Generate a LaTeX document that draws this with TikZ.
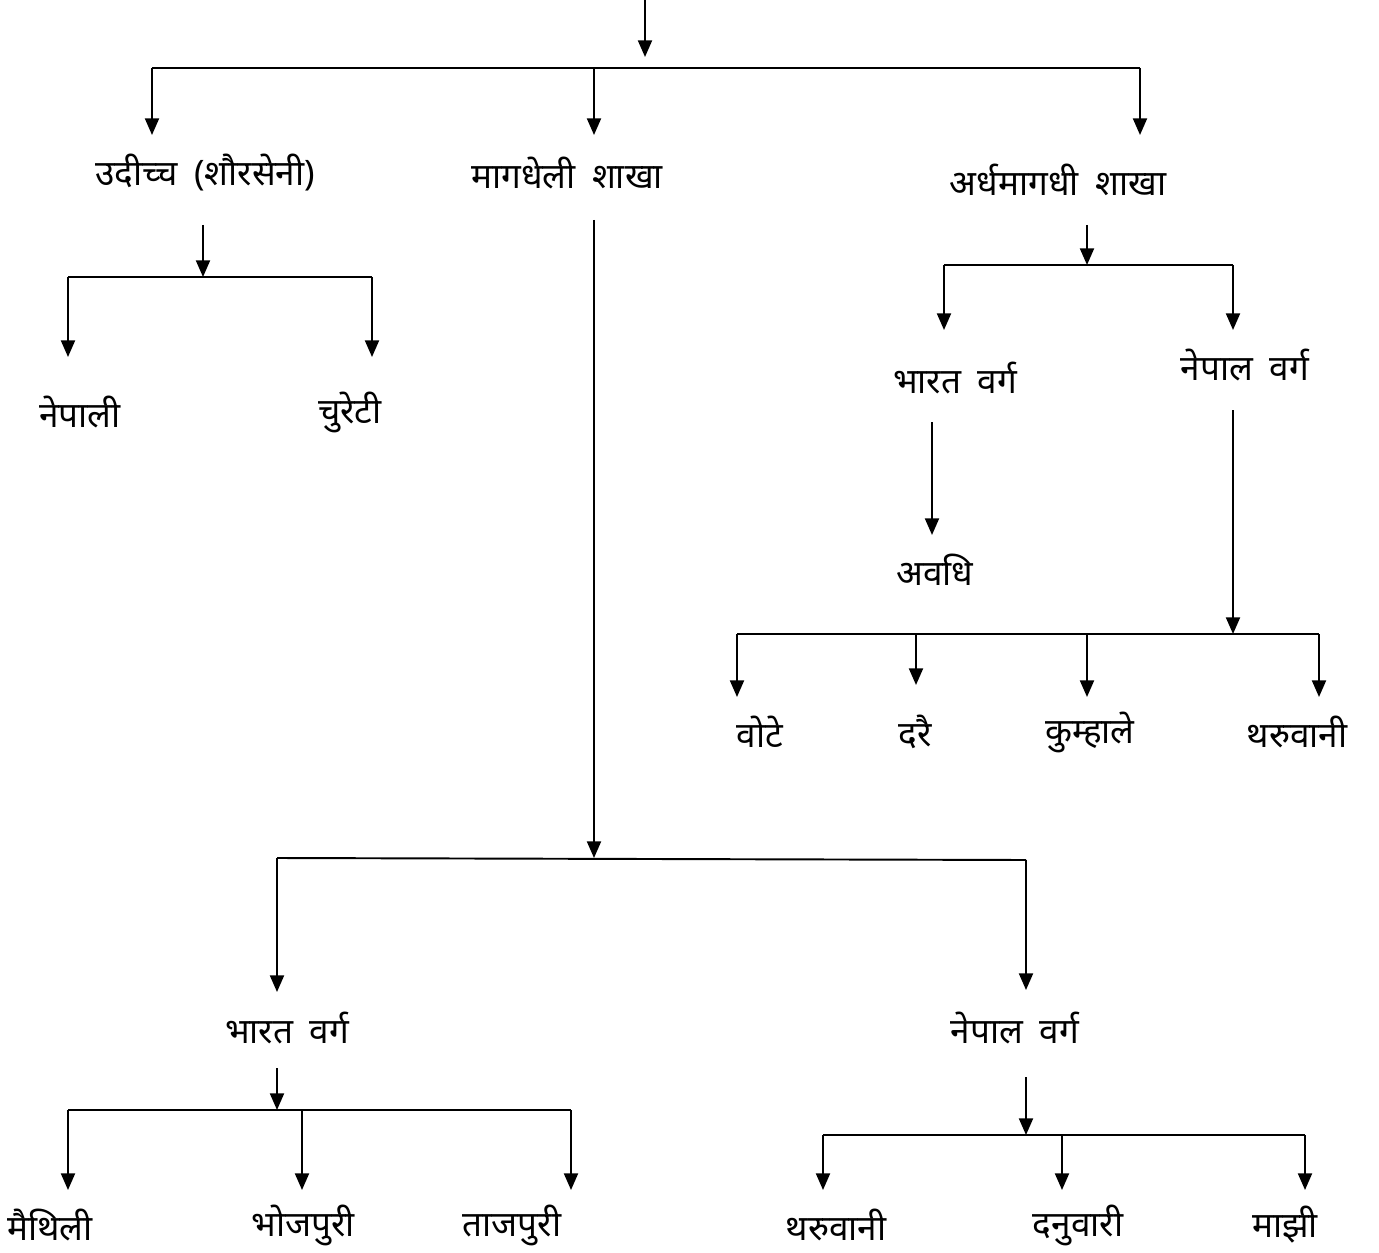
\documentclass[tikz,border=0pt]{standalone}
\usepackage{fontspec}
\newfontfamily\devfont[Script=Devanagari, WordSpace=1.8]{Noto Sans}
\usetikzlibrary{arrows.meta}

\begin{document}
\begin{tikzpicture}[x=0.02cm, y=-0.02cm, >={Triangle[length=9.5pt, width=8pt]}, line width=1.1pt,
    lbl/.style={font=\devfont\fontsize{20}{24}\selectfont, inner sep=0pt}]

    \useasboundingbox (0,0) rectangle (1379,1253);

    % root and first split
    \coordinate (root) at (645,0);
    \draw[->] (root) -- (645,57);
    \draw (152,68) -- (1140,68);
    \foreach \x in {152,594,1140}
        \draw[->] (\x,68) -- (\x,135);

    \node[lbl] (udicya) at (205,173) {उदीच्च (शौरसेनी)};
    \node[lbl] (magadh) at (567,173) {मागधेली शाखा};
    \node[lbl] (ardha) at (1058,180) {अर्धमागधी शाखा};

    % udicya branch
    \coordinate (udbus) at (203,277);
    \draw[->] (203,225) -- (udbus);
    \draw (68,277) -- (372,277);
    \foreach \x in {68,372}
        \draw[->] (\x,277) -- (\x,357);

    \node[lbl] (nepali) at (80,412) {नेपाली};
    \node[lbl] (cureti) at (350,412) {चुरेटी};

    % ardhamagadhi branch
    \coordinate (ardbus) at (1087,265);
    \draw[->] (1087,225) -- (ardbus);
    \draw (944,265) -- (1233,265);
    \foreach \x in {944,1233}
        \draw[->] (\x,265) -- (\x,330);

    \node[lbl] (abharat) at (955,378) {भारत वर्ग};
    \node[lbl] (anepal) at (1245,365) {नेपाल वर्ग};

    \draw[->] (932,422) -- (932,535);
    \node[lbl] (avadhi) at (935,570) {अवधि};

    \coordinate (anbus) at (1233,634);
    \draw[->] (1233,410) -- (anbus);
    \draw (737,634) -- (1319,634);
    \draw[->] (737,634) -- (737,697);
    \draw[->] (916,634) -- (916,685);
    \draw[->] (1087,634) -- (1087,697);
    \draw[->] (1319,634) -- (1319,697);

    \node[lbl] (vote) at (760,732) {वोटे};
    \node[lbl] (darai) at (915,732) {दरै};
    \node[lbl] (kumhale) at (1090,732) {कुम्हाले};
    \node[lbl] (tharuA) at (1297,732) {थरुवानी};

    % magadhi branch
    \coordinate (magbus) at (594,858);
    \draw[->] (594,220) -- (magbus);
    \draw (277,858) -- (1026,860);
    \draw[->] (277,858) -- (277,992);
    \draw[->] (1026,860) -- (1026,990);

    \node[lbl] (mbharat) at (287,1028) {भारत वर्ग};
    \node[lbl] (mnepal) at (1015,1028) {नेपाल वर्ग};

    \coordinate (mbbus) at (277,1110);
    \draw[->] (277,1068) -- (mbbus);
    \draw (68,1110) -- (571,1110);
    \foreach \x in {68,302,571}
        \draw[->] (\x,1110) -- (\x,1190);

    \node[lbl] (maithili) at (50,1225) {मैथिली};
    \node[lbl] (bhojpuri) at (303,1225) {भोजपुरी};
    \node[lbl] (tajpuri) at (512,1225) {ताजपुरी};

    \coordinate (mnbus) at (1026,1135);
    \draw[->] (1026,1077) -- (mnbus);
    \draw (823,1135) -- (1305,1135);
    \foreach \x in {823,1062,1305}
        \draw[->] (\x,1135) -- (\x,1190);

    \node[lbl] (tharuB) at (836,1225) {थरुवानी};
    \node[lbl] (danuwari) at (1078,1225) {दनुवारी};
    \node[lbl] (majhi) at (1285,1225) {माझी};
\end{tikzpicture}
\end{document}
